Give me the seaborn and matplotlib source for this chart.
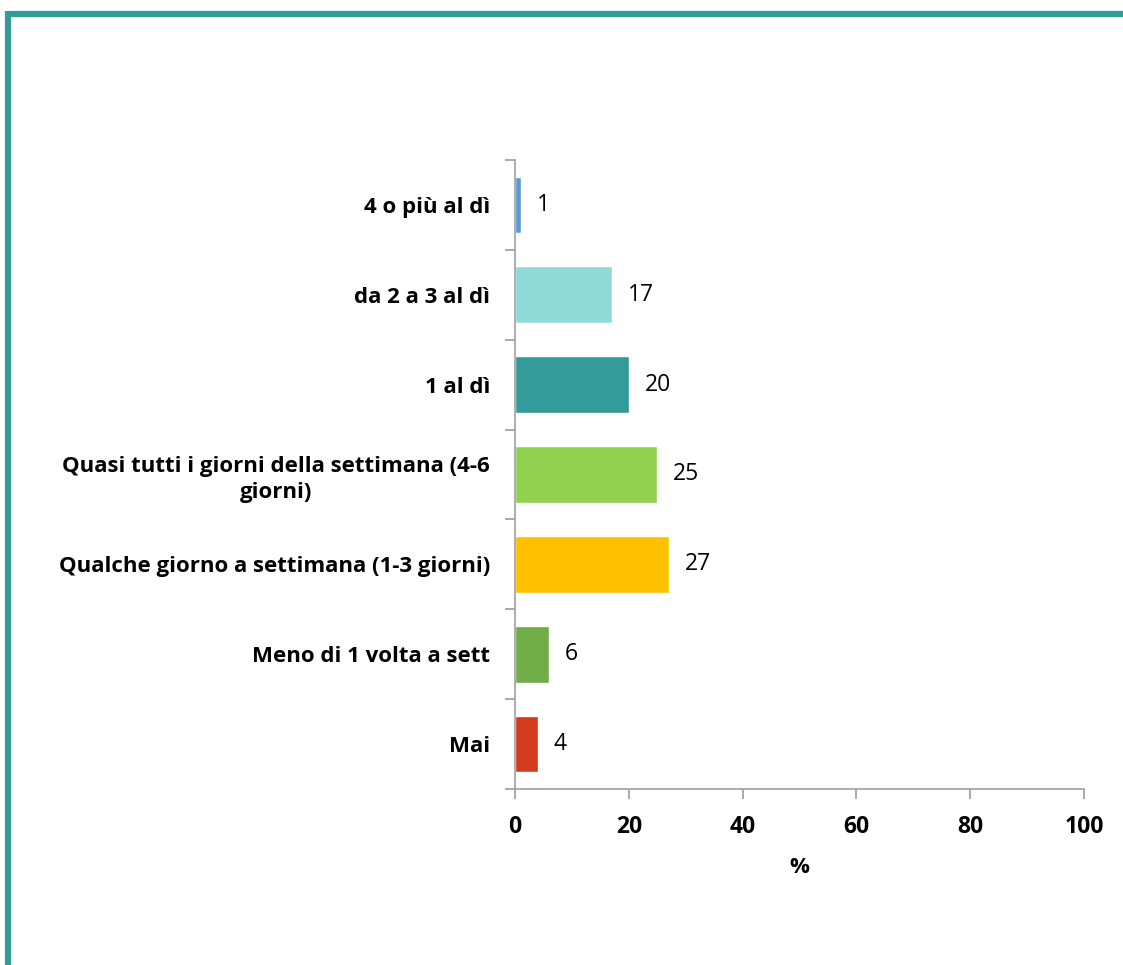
import matplotlib
matplotlib.use("Agg")
import matplotlib.pyplot as plt
import seaborn as sns
import pandas as pd
from matplotlib.lines import Line2D

categories = ["4 o più al dì", "da 2 a 3 al dì", "1 al dì",
              "Quasi tutti i giorni della settimana (4-6\ngiorni)",
              "Qualche giorno a settimana (1-3 giorni)",
              "Meno di 1 volta a sett", "Mai"]
values = [1, 17, 20, 25, 27, 6, 4]
colors = ["#5B9BD5", "#8FDAD8", "#339C9A", "#92D050", "#FFC000", "#70AD47", "#D43B1E"]
xticks = [0, 20, 40, 60, 80, 100]

sns.set_theme(style="white")
plt.rcParams['font.family'] = ['Open Sans', 'DejaVu Sans']
plt.rcParams['text.color'] = 'black'
plt.rcParams['axes.labelcolor'] = 'black'
plt.rcParams['xtick.labelcolor'] = 'black'
plt.rcParams['ytick.labelcolor'] = 'black'

fig = plt.figure(figsize=(11.23, 9.65), dpi=100)
ax = fig.add_axes([0.4586, 0.1824, 0.5067, 0.6518])

df = pd.DataFrame({"cat": categories, "val": values})
sns.barplot(data=df, x="val", y="cat", hue="cat", palette=colors, legend=False,
            width=0.63, ax=ax, saturation=1)

ax.set_xlim(0, 100)
ax.set_ylim(6.5, -0.5)
ax.set_xticks(xticks)
ax.set_xticklabels([str(t) for t in xticks], fontsize=16.5, fontweight="bold")
ax.set_xlabel("%", fontsize=16, fontweight="bold", labelpad=13, color="black")
ax.set_ylabel("")
ax.set_yticks([i - 0.5 for i in range(8)], minor=False)
ax.set_yticklabels([])
ax.set_yticks(range(7), minor=True)
ax.set_yticklabels(categories, minor=True, fontsize=16, fontweight="bold", ha="right")
ax.tick_params(axis="y", which="minor", length=0, pad=18, labelcolor="black")
ax.tick_params(axis="y", which="major", length=7, color="#A0A0A0", direction="out", left=True)
ax.tick_params(axis="x", length=7, color="#A0A0A0", direction="out", bottom=True, pad=12, labelcolor="black")
for lab in ax.get_yticklabels(minor=True):
    lab.set_multialignment("center")
    lab.set_linespacing(1.3)
    lab.set_color("black")

for s in ["top", "right"]:
    ax.spines[s].set_visible(False)
for s in ["left", "bottom"]:
    ax.spines[s].set_color("#A0A0A0")
    ax.spines[s].set_linewidth(1.2)

for i, v in enumerate(values):
    ax.text(v + 2.8, i, str(v), va="center", ha="left", fontsize=16.5, color="black")

# border
fig.add_artist(Line2D([0.0076, 1.0], [1 - 14 / 965, 1 - 14 / 965], transform=fig.transFigure,
                      color="#339C9A", linewidth=4.5, solid_capstyle="butt"))
fig.add_artist(Line2D([8 / 1123, 8 / 1123], [0, 1 - 11 / 965], transform=fig.transFigure,
                      color="#339C9A", linewidth=4.5, solid_capstyle="butt"))

fig.savefig("out.png", dpi=100)
